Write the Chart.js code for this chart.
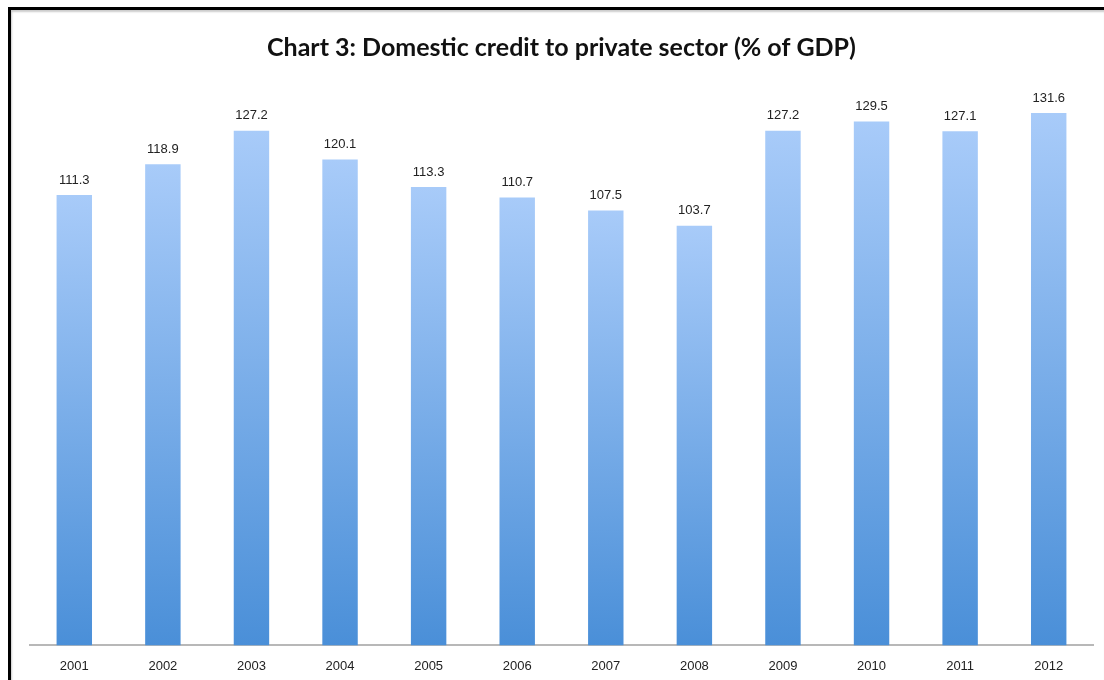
<!DOCTYPE html>
<html>
<head>
<meta charset="utf-8">
<script src="https://cdn.jsdelivr.net/npm/chart.js@4"></script>
<style>
  html, body { margin: 0; padding: 0; background: #fff; overflow: hidden; }
  #wrap { position: relative; width: 1104px; height: 680px; overflow: hidden; }
  #frame {
    position: absolute; left: 8px; top: 7px; right: 0; bottom: 0;
    border-left: 3px solid #000; border-top: 3px solid #000;
    box-shadow: inset 1px 2px 2px #ccc;
    pointer-events: none;
  }
  canvas { position: absolute; left: 0; top: 0; }
</style>
</head>
<body>
<div id="wrap">
  <canvas id="chart" width="1104" height="687"></canvas>
  <div id="frame"></div>
</div>
<script>
// Données du graphique
const years = ['2001', '2002', '2003', '2004', '2005', '2006', '2007', '2008', '2009', '2010', '2011', '2012'];
const credit = [111.3, 118.9, 127.2, 120.1, 113.3, 110.7, 107.5, 103.7, 127.2, 129.5, 127.1, 131.6];
const chartTitle = 'Chart 3: Domestic credit to private sector (% of GDP)';

// Dégradé vertical pour chaque barre (clair en haut, foncé en bas)
function barGradient(context) {
  const chart = context.chart;
  const y = chart.scales.y;
  if (!chart.chartArea || !y || context.raw === undefined) return '#7fb0ea';
  const top = y.getPixelForValue(context.raw);
  const bottom = y.getPixelForValue(0);
  const g = chart.ctx.createLinearGradient(0, top, 0, bottom);
  g.addColorStop(0, '#a8cbf9');
  g.addColorStop(1, '#4a8fd8');
  return g;
}

// Étiquettes de valeur au-dessus des barres
const valueLabels = {
  id: 'valueLabels',
  afterDatasetsDraw(chart) {
    const ctx = chart.ctx;
    const meta = chart.getDatasetMeta(0);
    ctx.save();
    ctx.font = '13px "Liberation Sans", Arial, sans-serif';
    ctx.fillStyle = '#222';
    ctx.textAlign = 'center';
    ctx.textBaseline = 'middle';
    meta.data.forEach((bar, i) => {
      ctx.fillText(credit[i].toFixed(1), bar.x, bar.y - 15);
    });
    ctx.restore();
  }
};

new Chart(document.getElementById('chart'), {
  type: 'bar',
  data: {
    labels: years,
    datasets: [{
      data: credit,
      backgroundColor: barGradient,
      borderWidth: 0,
      categoryPercentage: 1,
      barPercentage: 0.4
    }]
  },
  options: {
    responsive: false,
    animation: false,
    layout: { padding: { left: 30, right: 11, top: 0, bottom: 0 } },
    plugins: {
      legend: { display: false },
      tooltip: { enabled: false },
      title: {
        display: true,
        text: chartTitle,
        color: '#111',
        font: { family: 'Lato', size: 25, weight: 'bold' },
        padding: { top: 33, bottom: 16 }
      }
    },
    scales: {
      x: {
        grid: { display: false, drawTicks: false },
        border: { display: true, color: '#b8b8b8', width: 2 },
        ticks: {
          color: '#222',
          font: { family: '"Liberation Sans", Arial, sans-serif', size: 13 },
          padding: 13,
          maxRotation: 0
        }
      },
      y: {
        display: false,
        min: 0,
        max: 140
      }
    }
  },
  plugins: [valueLabels]
});
</script>
</body>
</html>
